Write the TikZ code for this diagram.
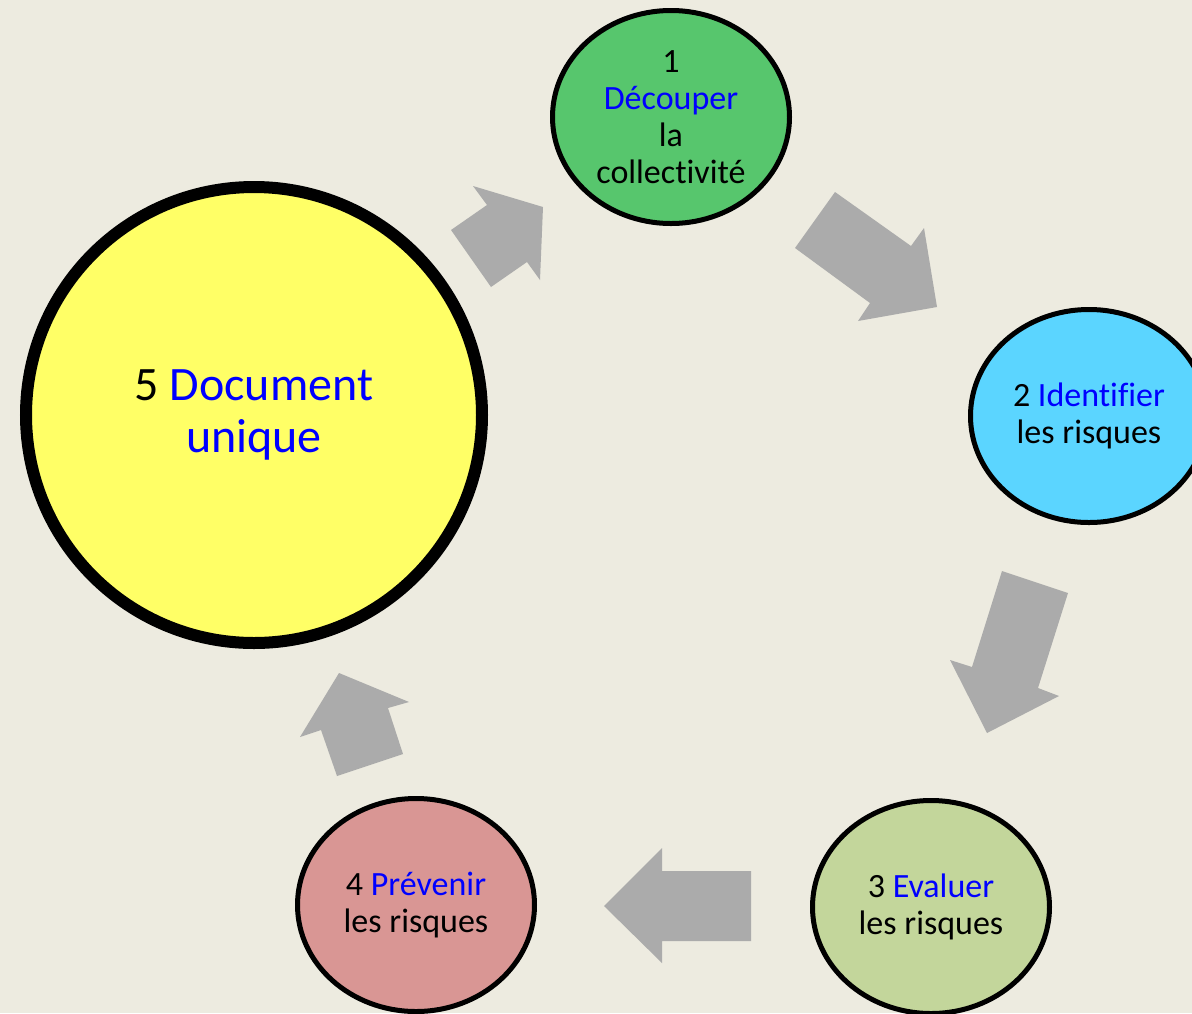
\documentclass[tikz,border=0pt]{standalone}
\usepackage{fontspec}
\setmainfont{Carlito}[Ligatures=NoCommon]
\usetikzlibrary{shapes.geometric}
\definecolor{bgtan}{HTML}{EDEBE0}
\definecolor{cgreen}{HTML}{57C66D}
\definecolor{cblue}{HTML}{5BD5FF}
\definecolor{colive}{HTML}{C3D69B}
\definecolor{cpink}{HTML}{D99694}
\definecolor{cyellow}{HTML}{FFFF66}
\definecolor{agray}{HTML}{ABABAB}
\definecolor{tblue}{HTML}{0000FF}
\tikzset{
  stepcircle/.style={ellipse, draw=black, line width=5pt, minimum width=237pt, minimum height=213pt, inner sep=0pt, align=center, font=\fontsize{34}{37}\selectfont},
  bigcircle/.style={circle, draw=black, line width=12pt, minimum size=456pt, inner sep=0pt, align=center, font=\fontsize{48}{52}\selectfont},
  blockarrow/.style={fill=agray, draw=none}
}
\begin{document}
\begin{tikzpicture}[x=1pt,y=-1pt]
\fill[bgtan] (0,0) rectangle (1192,1013);
\clip (0,0) rectangle (1192,1013);
\useasboundingbox (0,0) rectangle (1192,1013);

% block arrows
\fill[blockarrow] (451,230) -- (487,205) -- (473,186) -- (543,207) -- (540,280) -- (527,262) -- (491,287) -- cycle;
\fill[blockarrow] (795,248) -- (835,192) -- (911,246) -- (924,228) -- (937,307) -- (858,321) -- (870,303) -- cycle;
\fill[blockarrow] (1002,571) -- (1068,593) -- (1038,688) -- (1059,696) -- (987,733) -- (950,660) -- (972,667) -- cycle;
\fill[blockarrow] (751,871) -- (662,871) -- (662,848) -- (604,906) -- (662,963) -- (662,941) -- (751,941) -- cycle;
\fill[blockarrow] (337,776) -- (403,754) -- (388,708) -- (409,702) -- (339,673) -- (300,737) -- (321,730) -- cycle;

% circles
\node[stepcircle, fill=cgreen] (s1) at (671,117) {1\\\textcolor{tblue}{Découper}\\la\\collectivité};
\node[stepcircle, fill=cblue] (s2) at (1089,416) {2 \textcolor{tblue}{Identifier}\\les risques};
\node[stepcircle, fill=colive] (s3) at (931,907) {3 \textcolor{tblue}{Evaluer}\\les risques};
\node[stepcircle, fill=cpink] (s4) at (416,905) {4 \textcolor{tblue}{Prévenir}\\les risques};
\node[bigcircle, fill=cyellow] (s5) at (254,415) {5 \textcolor{tblue}{Document}\\\textcolor{tblue}{unique}};
\end{tikzpicture}
\end{document}
